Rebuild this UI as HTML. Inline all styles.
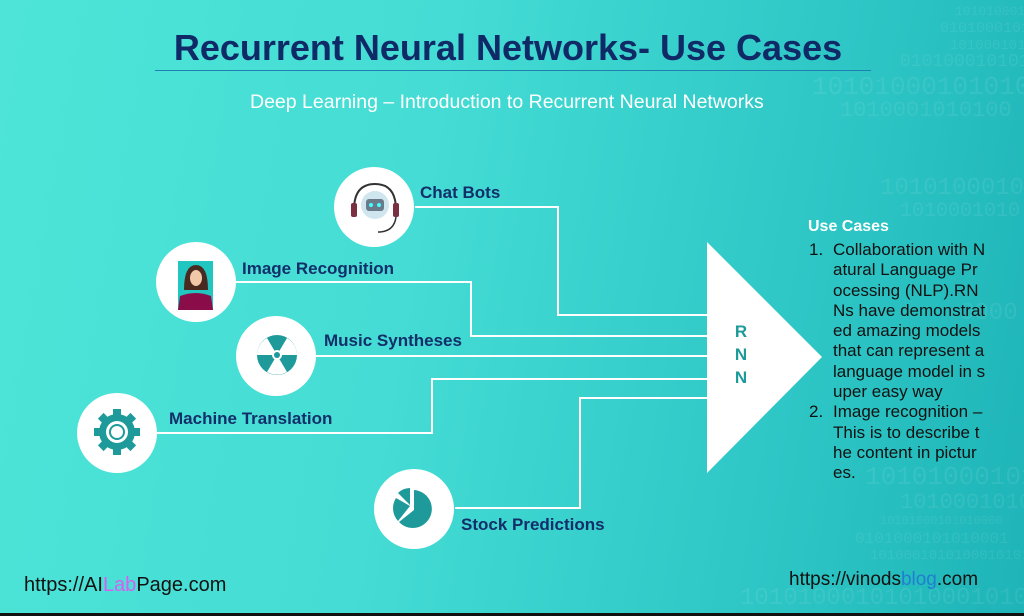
<!DOCTYPE html>
<html><head><style>
body{margin:0;width:1024px;height:616px;overflow:hidden;position:relative;font-family:"Liberation Sans",sans-serif;
background:linear-gradient(100deg,#4ee5d8 0%,#44dcd4 40%,#2fc7c6 75%,#1eb4b8 100%);}
.t{position:absolute;white-space:nowrap}
.lbl{position:absolute;font-weight:bold;color:#122f6a;font-size:17px;white-space:nowrap}
.c{position:absolute;width:80px;height:80px;border-radius:50%;background:#fff}
.bin{position:absolute;font-family:"Liberation Mono",monospace;color:rgba(255,255,255,0.08);white-space:nowrap}
</style></head><body>
<div class="bin" style="left:955px;top:4px;font-size:13px">101010001</div>
<div class="bin" style="left:940px;top:20px;font-size:15px">01010001010</div>
<div class="bin" style="left:950px;top:38px;font-size:14px">1010001010</div>
<div class="bin" style="left:900px;top:52px;font-size:18px">0101000101010</div>
<div class="bin" style="left:812px;top:72px;font-size:26px">101010001010100</div>
<div class="bin" style="left:840px;top:98px;font-size:22px">1010001010100</div>
<div class="bin" style="left:880px;top:175px;font-size:24px">1010100010</div>
<div class="bin" style="left:900px;top:200px;font-size:20px">1010001010</div>
<div class="bin" style="left:960px;top:300px;font-size:24px">0000</div>
<div class="bin" style="left:865px;top:462px;font-size:26px">10101000101010</div>
<div class="bin" style="left:900px;top:490px;font-size:22px">1010001010</div>
<div class="bin" style="left:880px;top:514px;font-size:12px">10101000101010000</div>
<div class="bin" style="left:855px;top:530px;font-size:16px">0101000101010001</div>
<div class="bin" style="left:870px;top:548px;font-size:14px">1010001010100010101</div>
<div class="bin" style="left:740px;top:585px;font-size:24px">1010100010101000101010</div>
<div style="position:absolute;left:0;top:613px;width:1024px;height:3px;background:#111"></div>

<div class="t" style="left:0;width:1016px;text-align:center;top:27px;font-size:36px;font-weight:bold;color:#0f2a66">Recurrent Neural Networks- Use Cases</div>
<div style="position:absolute;left:155px;top:70px;width:716px;height:1px;background:#1f7fb0"></div>
<div class="t" style="left:250px;top:91px;font-size:19.5px;color:#fff">Deep Learning – Introduction to Recurrent Neural Networks</div>

<svg width="1024" height="616" style="position:absolute;left:0;top:0">
<g fill="none" stroke="#fff" stroke-width="2">
<polyline points="415,207 558,207 558,315 707,315"/>
<polyline points="236,282 471,282 471,336 707,336"/>
<polyline points="316,356 707,356"/>
<polyline points="157,433 432,433 432,379 707,379"/>
<polyline points="455,508 580,508 580,398 707,398"/>
</g>
<polygon points="707,242 707,473 822,357" fill="#fff"/>
<text x="741" y="337" font-size="17" font-weight="bold" fill="#1f9a9a" font-family="Liberation Sans" text-anchor="middle">R</text>
<text x="741" y="360" font-size="17" font-weight="bold" fill="#1f9a9a" font-family="Liberation Sans" text-anchor="middle">N</text>
<text x="741" y="383" font-size="17" font-weight="bold" fill="#1f9a9a" font-family="Liberation Sans" text-anchor="middle">N</text>
</svg>

<div class="c" style="left:334px;top:167px"></div>
<div class="c" style="left:156px;top:242px"></div>
<div class="c" style="left:236px;top:316px"></div>
<div class="c" style="left:77px;top:393px"></div>
<div class="c" style="left:374px;top:469px"></div>

<svg width="1024" height="616" style="position:absolute;left:0;top:0">
<!-- chatbot -->
<circle cx="375" cy="205" r="14" fill="#cfe6ee"/>
<rect x="366" y="199" width="18" height="12" rx="3" fill="#6a7a88"/>
<circle cx="371" cy="205" r="2" fill="#4ff"/><circle cx="379" cy="205" r="2" fill="#4ff"/>
<path d="M354,210 Q354,184 375,184 Q396,184 396,210" fill="none" stroke="#333" stroke-width="2"/>
<rect x="351" y="203" width="6" height="14" rx="2" fill="#7a3040"/>
<rect x="393" y="203" width="6" height="14" rx="2" fill="#7a3040"/>
<path d="M396,217 Q394,232 378,232" fill="none" stroke="#333" stroke-width="1.5"/>
<!-- woman -->
<rect x="178" y="261" width="35" height="49" fill="#22c6c0"/>
<path d="M184,290 Q184,265 196,265 Q208,265 208,290 Z" fill="#4a2a20"/>
<ellipse cx="196" cy="278" rx="6" ry="8" fill="#f2c9a8"/>
<path d="M178,310 L180,296 Q196,290 211,296 L213,310 Z" fill="#8a0d4a"/>
<!-- radiation -->
<circle cx="277" cy="355" r="20" fill="#1e9a9b"/>
<path d="M277,355 L287,372 A20,20 0 0 1 267,372 Z" fill="#fff"/>
<path d="M277,355 L257,355 A20,20 0 0 1 267,338 Z" fill="#fff"/>
<path d="M277,355 L287,338 A20,20 0 0 1 297,355 Z" fill="#fff"/>
<circle cx="277" cy="355" r="5" fill="#fff"/><circle cx="277" cy="355" r="3" fill="#1e9a9b"/>
<!-- gear -->
<g transform="translate(117,432)" fill="#1e9a9b">
<circle r="18"/>
<g><rect x="-4" y="-23" width="8" height="8"/><rect x="-4" y="15" width="8" height="8"/><rect x="-23" y="-4" width="8" height="8"/><rect x="15" y="-4" width="8" height="8"/></g>
<g transform="rotate(45)"><rect x="-4" y="-23" width="8" height="8"/><rect x="-4" y="15" width="8" height="8"/><rect x="-23" y="-4" width="8" height="8"/><rect x="15" y="-4" width="8" height="8"/></g>
<circle r="11" fill="#fff"/><circle r="8"/><circle r="6" fill="#fff"/>
</g>
<!-- pie -->
<path d="M414,510 L414,490 A19,19 0 1 1 399,522 Z" fill="#1e9a9b"/>
<path d="M410,506 L398,521 A19,19 0 0 1 396,498 Z" fill="#1e9a9b"/>
<path d="M410,505 L398,493 A17,17 0 0 1 410,488 Z" fill="#1e9a9b"/>
</svg>

<div class="lbl" style="left:420px;top:183px">Chat Bots</div>
<div class="lbl" style="left:242px;top:259px">Image Recognition</div>
<div class="lbl" style="left:324px;top:331px">Music Syntheses</div>
<div class="lbl" style="left:169px;top:409px">Machine Translation</div>
<div class="lbl" style="left:461px;top:515px">Stock Predictions</div>

<div class="t" style="left:808px;top:218px;font-size:16px;font-weight:bold;color:#fff">Use Cases</div>
<div style="position:absolute;left:809px;top:240px;font-size:17px;line-height:20.3px;color:#111;">
<div style="position:relative;padding-left:24px">
<span style="position:absolute;left:0">1.</span>Collaboration with N<br>atural Language Pr<br>ocessing (NLP).RN<br>Ns have demonstrat<br>ed amazing models<br>that can represent a<br>language model in s<br>uper easy way</div>
<div style="position:relative;padding-left:24px">
<span style="position:absolute;left:0">2.</span>Image recognition –<br>This is to describe t<br>he content in pictur<br>es.</div>
</div>

<div class="t" style="left:24px;top:574px;font-size:20px;color:#111">https://AI<span style="color:#d85ef0">Lab</span>Page.com</div>
<div class="t" style="left:789px;top:569px;font-size:19px;color:#111">https://vinods<span style="color:#1f7fd0">blog</span>.com</div>
</body></html>
